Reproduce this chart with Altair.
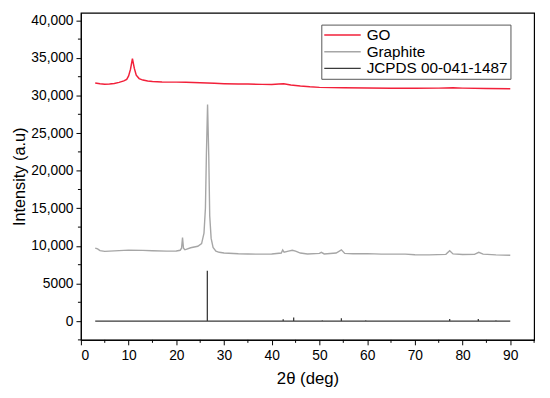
import altair as alt
import pandas as pd

# ---- data ----
go_theta = [3.0, 4.0, 5.0, 6.0, 7.0, 8.0, 9.0, 9.6, 10.0, 10.4, 10.8, 11.2, 11.6, 12.2, 13.0,
            14.0, 15.0, 17.0, 20.0, 22.0, 25.0, 28.0, 30.0, 33.0, 35.0, 38.0, 40.0, 41.5, 42.5,
            44.0, 46.0, 48.0, 50.0, 55.0, 60.0, 65.0, 70.0, 75.0, 78.0, 80.0, 85.0, 90.0]
go_int = [31650, 31550, 31500, 31520, 31600, 31750, 31950, 32150, 32600, 33500, 34900, 33600,
          32700, 32250, 32050, 31920, 31850, 31800, 31780, 31750, 31700, 31620, 31570, 31530,
          31520, 31480, 31450, 31520, 31560, 31400, 31250, 31150, 31080, 31020, 31000, 30970,
          30950, 30980, 31020, 30980, 30930, 30900]

gr_theta = [3.0, 3.5, 4.0, 5.0, 7.0, 10.0, 13.0, 15.0, 18.0, 20.0, 20.8, 21.1, 21.3, 21.5, 21.8,
            23.0, 24.5, 25.3, 25.8, 26.1, 26.3, 26.55, 26.8, 27.0, 27.3, 27.7, 28.3, 29.0, 30.0,
            33.0, 35.0, 38.0, 40.0, 42.0, 42.3, 42.6, 43.5, 44.3, 45.0, 46.0, 47.5, 50.0, 50.4,
            51.0, 53.5, 54.6, 55.3, 57.0, 60.0, 63.0, 68.0, 70.0, 73.0, 76.5, 77.3, 78.0, 80.0,
            82.5, 83.4, 84.3, 87.0, 90.0]
gr_int = [9700, 9600, 9380, 9270, 9330, 9430, 9400, 9350, 9300, 9320, 9420, 9700, 11100, 9700,
          9480, 9750, 9950, 10300, 11700, 15000, 22000, 28800, 22000, 14000, 11000, 9800, 9300,
          9150, 9050, 8950, 8920, 8900, 8920, 9050, 9450, 9150, 9300, 9420, 9300, 9050, 8930,
          9000, 9150, 8930, 9050, 9480, 9000, 8950, 8980, 8900, 8900, 8820, 8800, 8880, 9350,
          8930, 8850, 8880, 9150, 8900, 8800, 8750]

jc_pos = [26.5, 42.4, 44.6, 50.6, 54.6, 59.7, 77.3, 83.3, 87.0]
jc_int = [6700, 250, 480, 100, 380, 100, 280, 280, 120]
jc_range = [3.0, 90.0]

series_names = ["GO", "Graphite", "JCPDS 00-041-1487"]
series_colors = ["#f2203a", "#a6a6a6", "#3a3a3a"]
series_widths = [1.5, 1.3, 1.3]

x_major = [0, 10, 20, 30, 40, 50, 60, 70, 80, 90]
x_minor = [5, 15, 25, 35, 45, 55, 65, 75, 85, 95]
y_major = [0, 5000, 10000, 15000, 20000, 25000, 30000, 35000, 40000]
y_minor = [-2500, 2500, 7500, 12500, 17500, 22500, 27500, 32500, 37500]

# ---- build tables ----
rows = []
for i, (t, v) in enumerate(zip(go_theta, go_int)):
    rows.append({"theta": t, "intensity": v, "series": series_names[0], "i": i})
for i, (t, v) in enumerate(zip(gr_theta, gr_int)):
    rows.append({"theta": t, "intensity": v, "series": series_names[1], "i": i})
seq = [(jc_range[0], 0)]
for p, h in zip(jc_pos, jc_int):
    seq += [(p, 0), (p, h), (p, 0)]
seq.append((jc_range[1], 0))
for i, (t, v) in enumerate(seq):
    rows.append({"theta": t, "intensity": v, "series": series_names[2], "i": i})
df = pd.DataFrame(rows)

FONT = "Liberation Sans"
xscale = alt.Scale(domain=[0, 95], nice=False, zero=False)
yscale = alt.Scale(domain=[-2500, 41000], nice=False, zero=False)

xaxis = alt.Axis(values=x_major, title="2θ (deg)", tickSize=5, labelPadding=4, grid=False,
                 domainColor="black", tickColor="black", labelColor="black",
                 labelFont=FONT, labelFontSize=14, titleFont=FONT, titleFontSize=17,
                 titleFontWeight="normal", titleColor="black", titlePadding=8)
yaxis = alt.Axis(values=y_major, title="Intensity (a.u)", tickSize=5, labelPadding=3, grid=False,
                 domainColor="black", tickColor="black", labelColor="black",
                 labelFont=FONT, labelFontSize=14, titleFont=FONT, titleFontSize=16.5,
                 titleFontWeight="normal", titleColor="black", titlePadding=3,
                 labelExpr="datum.value >= 10000 ? format(datum.value, ',') : format(datum.value, 'd')")

lines = alt.Chart(df).mark_line(interpolate="linear").encode(
    x=alt.X("theta:Q", scale=xscale, axis=xaxis),
    y=alt.Y("intensity:Q", scale=yscale, axis=yaxis),
    color=alt.Color("series:N", sort=series_names,
                    scale=alt.Scale(domain=series_names, range=series_colors),
                    legend=alt.Legend(title=None, orient="none", legendX=244, legendY=12,
                                      symbolType="stroke", symbolSize=1369,
                                      symbolStrokeWidth=1.5, labelFont=FONT,
                                      labelFontSize=15.5, labelColor="black",
                                      labelOffset=5, clipHeight=17, rowPadding=0,
                                      padding=2, strokeColor="#555555",
                                      fillColor="white", cornerRadius=0)),
    strokeWidth=alt.StrokeWidth("series:N",
                                scale=alt.Scale(domain=series_names, range=series_widths),
                                legend=None),
    order=alt.Order("i:Q"),
)

xminor = alt.Chart(pd.DataFrame({"theta": x_minor})).mark_rule(color="black", strokeWidth=1).encode(
    x=alt.X("theta:Q", scale=xscale, axis=xaxis),
    y=alt.value(332), y2=alt.value(335),
)
yminor = alt.Chart(pd.DataFrame({"intensity": y_minor})).mark_rule(color="black", strokeWidth=1).encode(
    y=alt.Y("intensity:Q", scale=yscale, axis=yaxis),
    x=alt.value(-3), x2=alt.value(0),
)

chart = alt.layer(lines, xminor, yminor).properties(
    width=460, height=332,
    autosize=alt.AutoSizeParams(type="none"),
    padding={"left": 74, "top": 2, "right": 8, "bottom": 48},
    background="white",
).configure_view(stroke="black", strokeWidth=1.2)

chart.save("out.html", embed_options={"renderer": "svg", "actions": False})
